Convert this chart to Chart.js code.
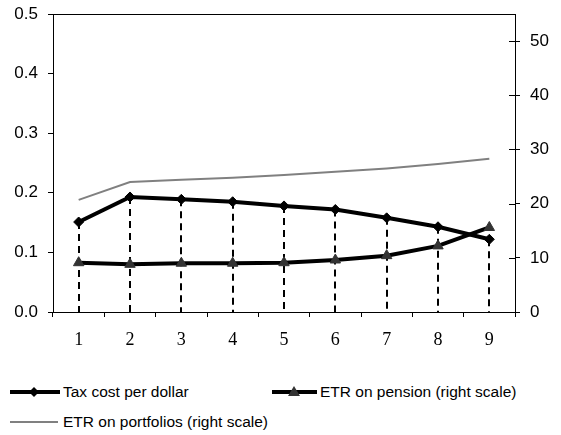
<!DOCTYPE html>
<html>
<head>
<meta charset="utf-8">
<script src="https://cdn.jsdelivr.net/npm/chart.js@4/dist/chart.umd.min.js"></script>
<style>
  body { margin: 0; background: #fff; }
  #wrap { position: relative; width: 561px; height: 435px; }
  canvas { position: absolute; left: 0; top: 0; }
  .leg { position: absolute; font: 15.5px "Liberation Sans", Arial, sans-serif; color: #000; white-space: nowrap; }
  .leg svg { position: absolute; left: 0; top: 0; }
  .leg span { position: absolute; top: 0; line-height: 16px; }
</style>
</head>
<body>
<div id="wrap">
  <canvas id="chart" width="561" height="365"></canvas>
  <div class="leg" style="left:10px; top:384px;">
    <svg width="52" height="16"><line x1="0" y1="8" x2="50" y2="8" stroke="#000" stroke-width="4"/><polygon points="24,3 29,8 24,13 19,8" fill="#000"/></svg>
    <span style="left:53px;">Tax cost per dollar</span>
  </div>
  <div class="leg" style="left:272px; top:384px;">
    <svg width="48" height="16"><line x1="0" y1="8" x2="45" y2="8" stroke="#000" stroke-width="4"/><polygon points="22,2 28,12 16,12" fill="#333"/></svg>
    <span style="left:48px;">ETR on pension (right scale)</span>
  </div>
  <div class="leg" style="left:10px; top:414px;">
    <svg width="52" height="16"><line x1="0" y1="8" x2="48" y2="8" stroke="#808080" stroke-width="2"/></svg>
    <span style="left:53px;">ETR on portfolios (right scale)</span>
  </div>
</div>
<script>
var categories = ["1", "2", "3", "4", "5", "6", "7", "8", "9"];
var taxCost = [0.151, 0.193, 0.189, 0.185, 0.178, 0.172, 0.158, 0.143, 0.122];
var etrPension = [9.1, 8.8, 9.0, 9.0, 9.1, 9.6, 10.4, 12.2, 15.6];
var etrPortfolios = [20.7, 24.0, 24.4, 24.8, 25.3, 25.9, 26.5, 27.3, 28.3];
var leftTicks = [0, 0.1, 0.2, 0.3, 0.4, 0.5];
var rightTicks = [0, 10, 20, 30, 40, 50];

// dashed drop lines from each tax-cost point to the axis, plus the top frame line
var dropLines = {
  id: "dropLines",
  beforeDatasetsDraw: function (chart) {
    var ctx = chart.ctx;
    var meta = chart.getDatasetMeta(0);
    var base = chart.scales.y.getPixelForValue(0);
    ctx.save();
    ctx.strokeStyle = "#000";
    ctx.lineWidth = 2;
    ctx.setLineDash([7, 5]);
    meta.data.forEach(function (pt) {
      ctx.beginPath();
      ctx.moveTo(Math.round(pt.x), pt.y);
      ctx.lineTo(Math.round(pt.x), base);
      ctx.stroke();
    });
    ctx.restore();
  },
  afterDraw: function (chart) {
    var ctx = chart.ctx;
    var area = chart.chartArea;
    var y2 = chart.scales.y2;
    ctx.save();
    ctx.strokeStyle = "#000";
    ctx.lineWidth = 1;
    ctx.beginPath();
    ctx.moveTo(area.left, area.top + 0.5);
    ctx.lineTo(area.right, area.top + 0.5);
    // right-axis tick marks cross the axis
    y2.ticks.forEach(function (t) {
      var py = Math.round(y2.getPixelForValue(t.value)) + 0.5;
      ctx.moveTo(area.right - 6, py);
      ctx.lineTo(area.right, py);
    });
    ctx.stroke();
    ctx.restore();
  }
};

function fixY(width) {
  return function (s) {
    s.width = width;
    s.paddingTop = 0;
    s.paddingBottom = 0;
  };
}

Chart.defaults.font.family = '"Liberation Sans", Arial, sans-serif';
Chart.defaults.font.size = 17;
Chart.defaults.color = "#000";

new Chart(document.getElementById("chart").getContext("2d"), {
  type: "line",
  data: {
    labels: categories,
    datasets: [
      {
        label: "Tax cost per dollar",
        data: taxCost,
        yAxisID: "y",
        borderColor: "#000",
        backgroundColor: "#000",
        borderWidth: 4,
        pointStyle: "rectRot",
        pointRadius: 5,
        pointBorderWidth: 1,
        tension: 0
      },
      {
        label: "ETR on pension (right scale)",
        data: etrPension,
        yAxisID: "y2",
        borderColor: "#000",
        backgroundColor: "#333",
        pointBorderColor: "#333",
        borderWidth: 4,
        pointStyle: "triangle",
        pointRadius: 6,
        pointBorderWidth: 1,
        tension: 0
      },
      {
        label: "ETR on portfolios (right scale)",
        data: etrPortfolios,
        yAxisID: "y2",
        borderColor: "#808080",
        backgroundColor: "#808080",
        borderWidth: 2,
        pointRadius: 0,
        tension: 0
      }
    ]
  },
  options: {
    responsive: false,
    animation: false,
    layout: { padding: { top: 14, left: 0, right: 0, bottom: 0 } },
    plugins: { legend: { display: false }, tooltip: { enabled: false } },
    scales: {
      x: {
        offset: true,
        grid: { offset: true, drawOnChartArea: false, tickLength: 5, color: "#000" },
        border: { color: "#000", width: 1 },
        ticks: { font: { family: '"Liberation Serif", "Times New Roman", serif', size: 18 }, padding: 12, maxRotation: 0 },
        afterFit: function (s) { s.height = 53; s.paddingLeft = 0; s.paddingRight = 0; }
      },
      y: {
        position: "left",
        min: 0,
        max: 0.5,
        afterBuildTicks: function (s) { s.ticks = leftTicks.map(function (v) { return { value: v }; }); },
        grid: { drawOnChartArea: false, tickLength: 5, color: "#000" },
        border: { color: "#000", width: 1 },
        ticks: { padding: 10, callback: function (v) { return Number(v).toFixed(1); } },
        afterFit: fixY(53)
      },
      y2: {
        position: "right",
        min: 0,
        max: 55,
        afterBuildTicks: function (s) { s.ticks = rightTicks.map(function (v) { return { value: v }; }); },
        grid: { drawOnChartArea: false, tickLength: 5, color: "#000" },
        border: { color: "#000", width: 1 },
        ticks: { padding: 10 },
        afterFit: fixY(46)
      }
    }
  },
  plugins: [dropLines]
});
</script>
</body>
</html>
